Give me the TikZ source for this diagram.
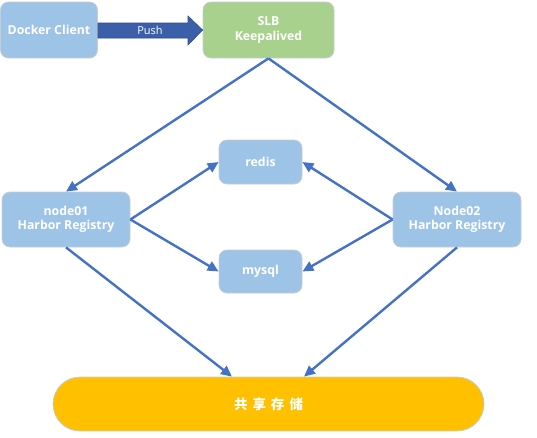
\documentclass[tikz,border=0pt]{standalone}
\usepackage{fontspec}
\setmainfont{Open Sans}
\newfontfamily\cjkfont{Noto Sans CJK SC}
\usetikzlibrary{arrows.meta}
\definecolor{boxblue}{HTML}{9DC3E6}
\definecolor{boxgreen}{HTML}{A9D18E}
\definecolor{boxgold}{HTML}{FFC000}
\definecolor{linkblue}{HTML}{4472C4}
\definecolor{pushblue}{HTML}{3C5FAA}
\definecolor{pushedge}{HTML}{2F4B8A}
\definecolor{edgegray}{HTML}{C8CCD4}
\begin{document}
\begin{tikzpicture}[x=1pt,y=-1pt,
  box/.style={draw=edgegray,line width=0.8pt,fill=boxblue,rounded corners=8pt,
    text=white,font=\fontsize{12.3}{14.5}\selectfont\bfseries,align=center,inner sep=0pt},
  link/.style={draw=linkblue,line width=2.4pt,-{Triangle[length=11pt,width=10pt]}}]
\useasboundingbox (0,0) rectangle (537,437);
\node[box,minimum width=97pt,minimum height=56pt] (client) at (49,30) {Docker Client};
\node[box,fill=boxgreen,minimum width=131pt,minimum height=56pt] (slb) at (268.5,30) {SLB\\Keepalived};
\node[box,minimum width=83pt,minimum height=44pt] (redis) at (260.5,162) {redis};
\node[box,minimum width=83pt,minimum height=43pt] (mysql) at (260.5,271.5) {mysql};
\node[box,minimum width=128pt,minimum height=55pt] (n1) at (66,219.5) {node01\\Harbor Registry};
\node[box,minimum width=128pt,minimum height=55pt] (n2) at (457,219.5) {Node02\\Harbor Registry};
\node[draw=edgegray,line width=0.8pt,fill=boxgold,rounded corners=27pt,minimum width=431pt,minimum height=54pt,
  text=white,font=\cjkfont\fontsize{13.5}{15}\selectfont\bfseries] (store) at (268.5,404) {共\hspace{5pt}享\hspace{5pt}存\hspace{5pt}储};
% push arrow
\filldraw[fill=pushblue,draw=pushedge,line width=0.6pt] (client.east |- 0,23) -- (188,23) -- (188,16) -- (slb.west) -- (188,45) -- (188,38) -- (client.east |- 0,38) -- cycle;
\node[text=white,font=\fontsize{11}{13}\selectfont] (push) at (150,30) {Push};
% links
\draw[link] (slb.south) -- (n1.north);
\draw[link] (slb.south) -- (n2.north);
\draw[link] (n1.east) -- (redis.west);
\draw[link] (n1.east) -- (mysql.west);
\draw[link] (n2.west) -- (redis.east);
\draw[link] (n2.west) -- (mysql.east);
\draw[link] (n1.south) -- (store.north -| 232,0);
\draw[link] (n2.south) -- (store.north -| 304,0);
\end{tikzpicture}
\end{document}
